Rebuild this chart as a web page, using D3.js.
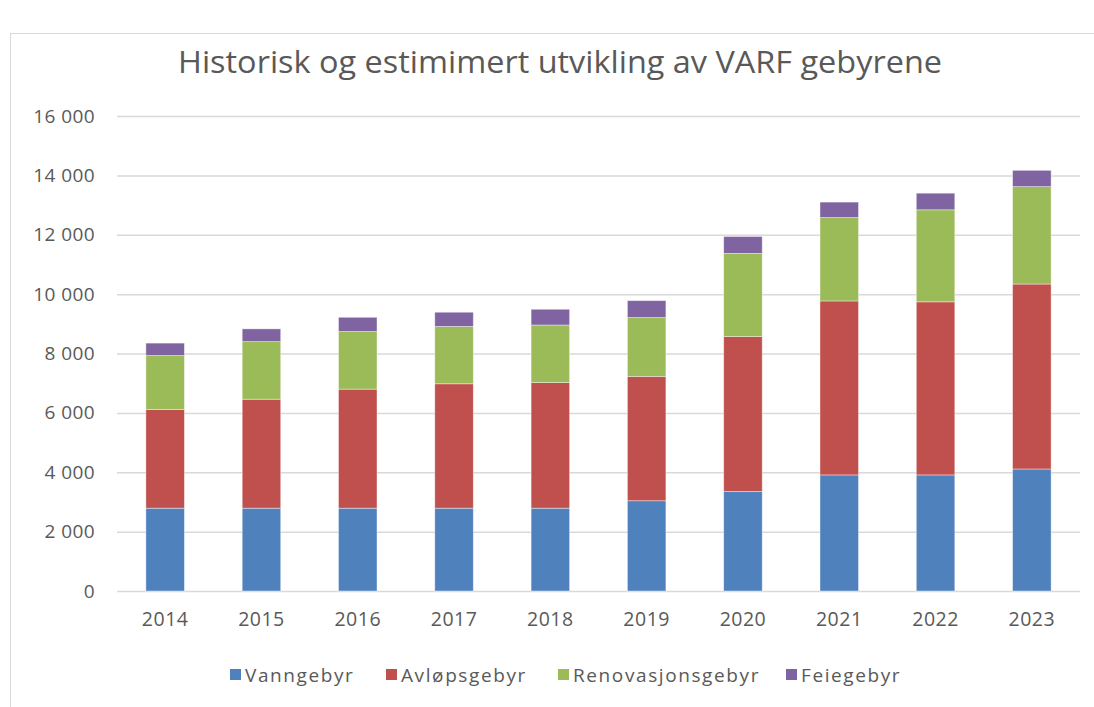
<!DOCTYPE html>
<html>
<head>
<meta charset="utf-8">
<script src="https://cdn.jsdelivr.net/npm/d3@7"></script>
<style>
  body { margin: 0; background: #fff; }
  text { font-family: "Open Sans", "Noto Sans", sans-serif; fill: #595959; }
</style>
</head>
<body>
<div id="chart"></div>
<script>
// data
var years = ["2014", "2015", "2016", "2017", "2018", "2019", "2020", "2021", "2022", "2023"];
var vanngebyr = [2790, 2790, 2790, 2790, 2790, 3040, 3350, 3910, 3910, 4110];
var avlopsgebyr = [3320, 3670, 4010, 4190, 4230, 4190, 5220, 5860, 5830, 6230];
var renovasjonsgebyr = [1820, 1940, 1940, 1930, 1940, 1980, 2800, 2810, 3100, 3280];
var feiegebyr = [420, 430, 480, 480, 530, 570, 570, 520, 560, 550];
var seriesNames = ["Vanngebyr", "Avløpsgebyr", "Renovasjonsgebyr", "Feiegebyr"];
var colors = ["#4F81BD", "#C0504D", "#9BBB59", "#8064A2"];
var yTicks = [0, 2000, 4000, 6000, 8000, 10000, 12000, 14000, 16000];

var svgWidth = 1094, svgHeight = 707;
var margin = { top: 116, right: 15, bottom: 116, left: 117 },
    width = 1080 - margin.left,
    height = 591 - margin.top;

var svg = d3.select("#chart").append("svg")
    .attr("width", svgWidth)
    .attr("height", svgHeight);

// chart frame
svg.append("rect")
    .attr("x", 10.5).attr("y", 33.5)
    .attr("width", 1100).attr("height", 700)
    .attr("fill", "none")
    .attr("stroke", "#d9d9d9");

svg.append("text")
    .attr("x", 560).attr("y", 73)
    .attr("text-anchor", "middle")
    .attr("textLength", 764)
    .attr("lengthAdjust", "spacingAndGlyphs")
    .style("font-size", "31px")
    .text("Historisk og estimimert utvikling av VARF gebyrene");

var g = svg.append("g")
    .attr("transform", `translate(${margin.left},${margin.top})`);

var x = d3.scaleBand()
    .domain(years)
    .range([0, width])
    .paddingInner(0.6)
    .paddingOuter(0.3);

var y = d3.scaleLinear()
    .domain([0, 16000])
    .range([height, 0]);

var fmt = function (d) { return d3.format(",")(d).replace(",", " "); };

// gridlines + y labels
var yAxis = g.append("g")
    .call(d3.axisLeft(y).tickValues(yTicks).tickSize(-width).tickFormat(fmt).tickPadding(22));
yAxis.select(".domain").remove();
yAxis.selectAll(".tick line").attr("stroke", "#d9d9d9").attr("stroke-width", 1.5);
yAxis.selectAll(".tick text").style("font-size", "19px").style("letter-spacing", "0.4px")
    .attr("fill", "#595959");

// stacked bars
var table = years.map(function (yr, i) {
    return { year: yr, Vanngebyr: vanngebyr[i], "Avløpsgebyr": avlopsgebyr[i],
             Renovasjonsgebyr: renovasjonsgebyr[i], Feiegebyr: feiegebyr[i] };
});
var stacked = d3.stack().keys(seriesNames)(table);

g.selectAll("g.layer")
    .data(stacked)
    .enter().append("g")
    .attr("class", "layer")
    .attr("fill", function (d, i) { return colors[i]; })
    .selectAll("rect")
    .data(function (d) { return d; })
    .enter().append("rect")
    .attr("x", function (d) { return x(d.data.year); })
    .attr("y", function (d) { return y(d[1]); })
    .attr("width", x.bandwidth())
    .attr("height", function (d) { return y(d[0]) - y(d[1]); })
    .attr("stroke", "rgba(255,255,255,0.5)")
    .attr("stroke-width", 0.8);

// x axis
var xAxis = g.append("g")
    .attr("transform", `translate(0,${height})`)
    .call(d3.axisBottom(x).tickSize(0).tickPadding(21));
xAxis.select(".domain").remove();
xAxis.selectAll(".tick text").style("font-size", "19.5px").style("letter-spacing", "0.5px")
    .attr("fill", "#595959");

// legend
var legendX = [230, 386, 558, 786];
var legend = svg.append("g").attr("transform", "translate(0,675)");
seriesNames.forEach(function (name, i) {
    var item = legend.append("g").attr("transform", `translate(${legendX[i]},0)`);
    item.append("rect").attr("x", 0).attr("y", -6).attr("width", 11).attr("height", 11)
        .attr("fill", colors[i]);
    item.append("text").attr("x", 15).attr("y", 7)
        .style("font-size", "19px")
        .style("letter-spacing", "1.6px")
        .text(name);
});
</script>
</body>
</html>
